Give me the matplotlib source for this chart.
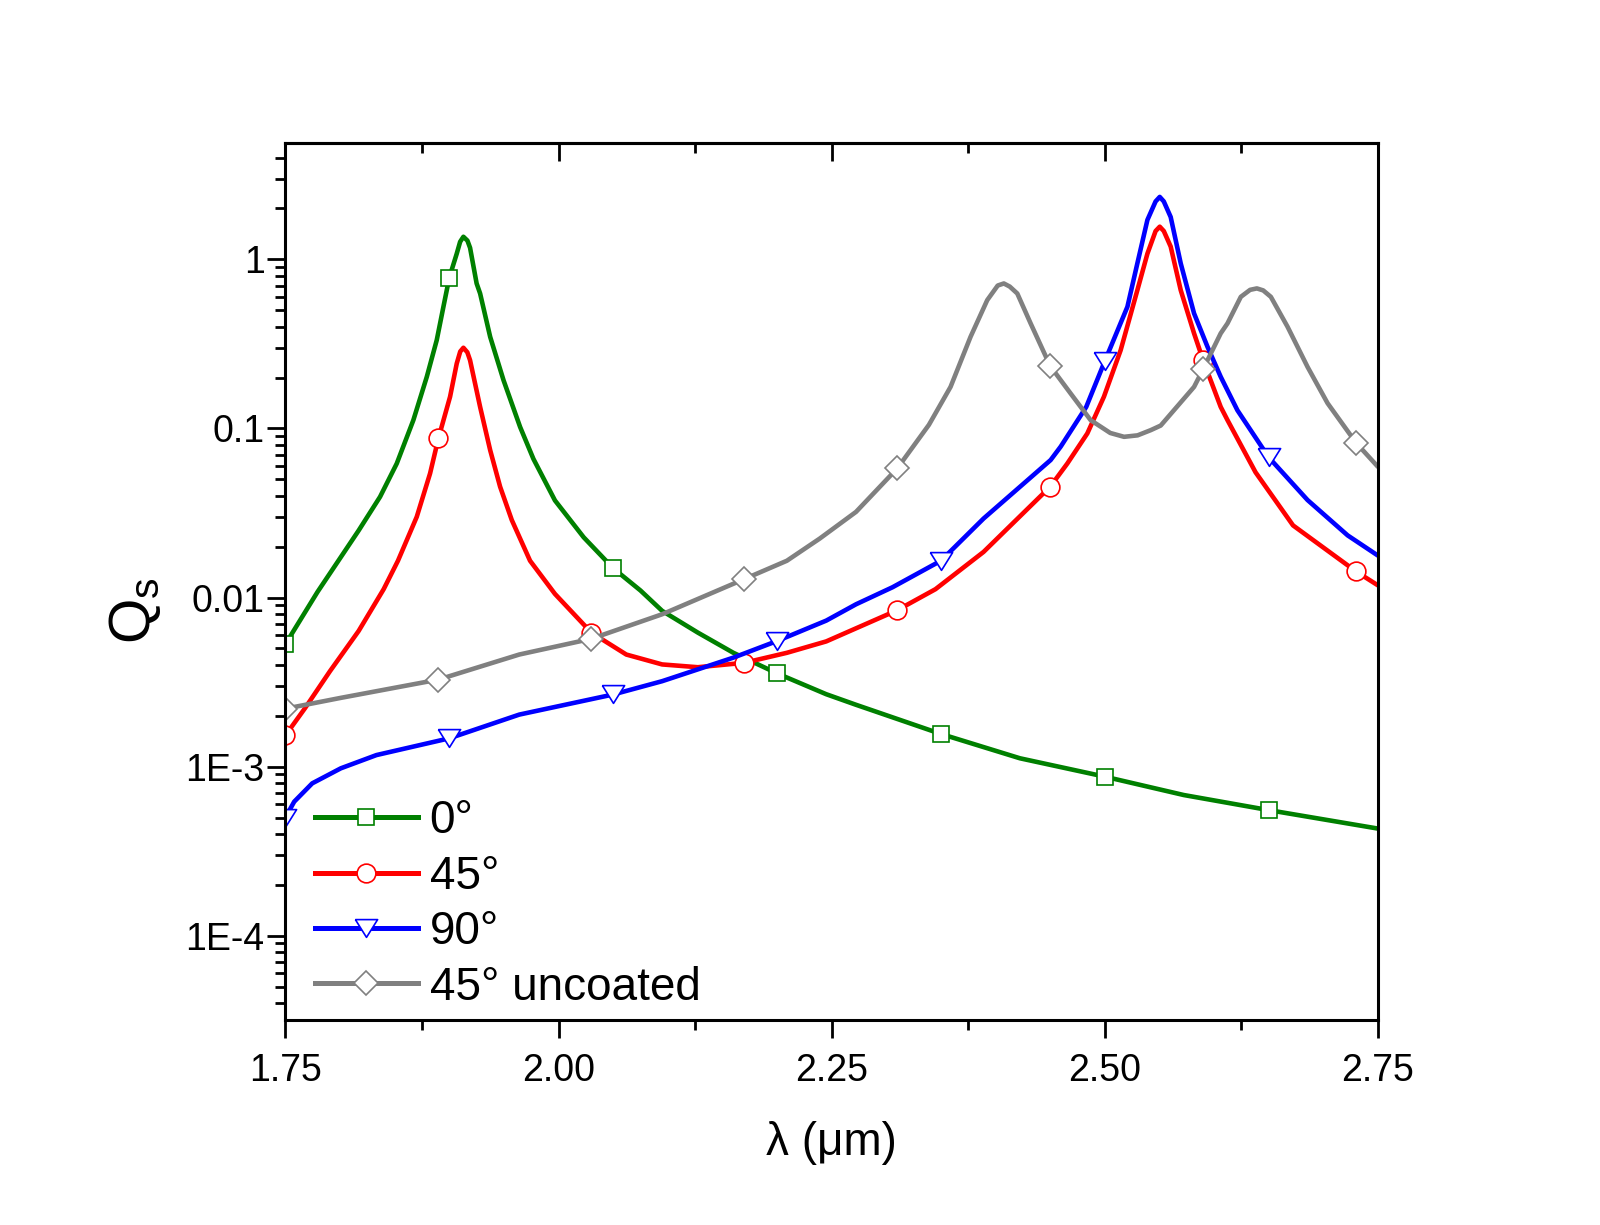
import numpy as np
import matplotlib
matplotlib.use('Agg')
import matplotlib.pyplot as plt
from matplotlib.lines import Line2D
from matplotlib.ticker import LogLocator, NullFormatter, FixedLocator

plt.rcParams['font.family'] = ['Liberation Sans', 'DejaVu Sans']
plt.rcParams['mathtext.default'] = 'regular'

# values
x_0deg = [1.750, 1.7794, 1.817, 1.8366, 1.8519, 1.8671, 1.8794, 1.8885, 1.8946, 1.900,
          1.9068, 1.9099, 1.9129, 1.9166, 1.919, 1.925, 1.9282, 1.9374, 1.9496, 1.9648,
          1.977, 1.9967, 2.023, 2.050, 2.075, 2.0948, 2.1275, 2.160, 2.200, 2.245,
          2.2723, 2.350, 2.4223, 2.500, 2.5723, 2.650, 2.750]
y_0deg = [0.0053, 0.0108, 0.0249, 0.0394, 0.062, 0.112, 0.202, 0.333, 0.524, 0.78,
          1.08, 1.27, 1.36, 1.29, 1.17, 0.72, 0.628, 0.348, 0.193, 0.102,
          0.066, 0.0375, 0.0227, 0.0149, 0.011, 0.00834, 0.0062, 0.00471, 0.00356, 0.00268,
          0.00232, 0.00156, 0.00112, 0.000872, 0.000679, 0.000553, 0.00043]

x_45deg = [1.750, 1.768, 1.7908, 1.817, 1.8399, 1.853, 1.8702, 1.8824, 1.890, 1.9007,
           1.9068, 1.910, 1.9129, 1.9165, 1.919, 1.9282, 1.9374, 1.9465, 1.9572, 1.9739,
           1.9967, 2.030, 2.062, 2.0948, 2.1275, 2.170, 2.209, 2.245, 2.310, 2.345,
           2.389, 2.450, 2.4657, 2.484, 2.4992, 2.5145, 2.5298, 2.539, 2.5465, 2.5503,
           2.554, 2.5603, 2.5695, 2.5817, 2.590, 2.6061, 2.6123, 2.638, 2.6723, 2.730,
           2.750]
y_45deg = [0.00153, 0.00222, 0.00367, 0.00634, 0.0112, 0.0165, 0.030, 0.0542, 0.0873, 0.154,
           0.242, 0.285, 0.30, 0.282, 0.253, 0.134, 0.0744, 0.0452, 0.0287, 0.0165,
           0.0105, 0.0062, 0.0046, 0.00402, 0.00387, 0.00411, 0.00471, 0.0055, 0.00841, 0.0112,
           0.0186, 0.0452, 0.062, 0.0934, 0.154, 0.290, 0.657, 1.08, 1.47, 1.56,
           1.47, 1.19, 0.657, 0.365, 0.253, 0.134, 0.112, 0.055, 0.0267, 0.01426,
           0.0118]

x_90deg = [1.750, 1.758, 1.7745, 1.8007, 1.8333, 1.900, 1.964, 2.050, 2.0948, 2.160,
           2.200, 2.245, 2.2723, 2.3057, 2.350, 2.389, 2.4504, 2.4596, 2.483, 2.500,
           2.5207, 2.5298, 2.539, 2.5465, 2.5503, 2.554, 2.5603, 2.5695, 2.5817, 2.594,
           2.6061, 2.6214, 2.650, 2.6856, 2.7223, 2.750]
y_90deg = [0.0005, 0.00062, 0.000796, 0.000977, 0.00117, 0.00147, 0.00203, 0.00267, 0.0032, 0.00441,
           0.00553, 0.0073, 0.00912, 0.0115, 0.0165, 0.0293, 0.065, 0.078, 0.134, 0.25,
           0.524, 0.946, 1.71, 2.2, 2.34, 2.2, 1.78, 0.946, 0.479, 0.304,
           0.202, 0.128, 0.0675, 0.0377, 0.0233, 0.0177]

x_uncoated = [1.750, 1.8007, 1.890, 1.964, 2.030, 2.0948, 2.170, 2.209, 2.239, 2.2723,
              2.310, 2.339, 2.3588, 2.3771, 2.3924, 2.402, 2.4076, 2.413, 2.4199, 2.4321,
              2.450, 2.4687, 2.487, 2.505, 2.5176, 2.530, 2.5421, 2.5512, 2.5817, 2.590,
              2.6061, 2.6123, 2.6245, 2.633, 2.6392, 2.645, 2.652, 2.6673, 2.6856, 2.7039,
              2.730, 2.750]
y_uncoated = [0.0022, 0.00255, 0.00327, 0.0046, 0.0057, 0.00796, 0.01285, 0.0165, 0.0223, 0.0321,
              0.058, 0.105, 0.176, 0.348, 0.574, 0.70, 0.72, 0.69, 0.628, 0.418,
              0.234, 0.161, 0.112, 0.094, 0.0892, 0.091, 0.0977, 0.104, 0.176, 0.224,
              0.365, 0.418, 0.6, 0.66, 0.673, 0.655, 0.6, 0.399, 0.231, 0.141,
              0.0822, 0.0593]

marks_a = [1.75, 1.90, 2.05, 2.20, 2.35, 2.50, 2.65]
marks_b = [1.75, 1.89, 2.03, 2.17, 2.31, 2.45, 2.59, 2.73]

labels = ['0°', '45°', '90°', '45° uncoated']
colors = ['#008000', '#ff0000', '#0000ff', '#808080']

tri = [(-1, 0.8), (1, 0.8), (0, -0.8), (-1, 0.8)]
markers = ['s', 'o', tri, 'D']
msizes = [12, 13.5, 16, 12.5]

series = [(x_0deg, y_0deg, marks_a), (x_45deg, y_45deg, marks_b),
          (x_90deg, y_90deg, marks_a), (x_uncoated, y_uncoated, marks_b)]

fig = plt.figure(figsize=(16, 12.25), dpi=100)
ax = fig.add_axes([0.1784, 0.1673, 0.6828, 0.7159])

handles = []
for (xs, ys, mk), c, m, ms, lab in zip(series, colors, markers, msizes, labels):
    xs = np.array(xs)
    ys = np.array(ys)
    ax.plot(xs, ys, color=c, lw=3.3, solid_joinstyle='round', solid_capstyle='round')
    sel = np.isin(np.round(xs, 3), np.round(mk, 3))
    ax.plot(xs[sel], ys[sel], ls='none', marker=m, ms=ms, mfc='white', mec=c, mew=1.2)
    handles.append(Line2D([], [], color=c, lw=3.6, marker=m, ms=ms,
                          mfc='white', mec=c, mew=1.2))

ax.set_yscale('log')
ax.set_xlim(1.75, 2.75)
ax.set_ylim(3.17e-5, 4.87)

ax.set_xticks([1.75, 2.00, 2.25, 2.50, 2.75], ['1.75', '2.00', '2.25', '2.50', '2.75'])
ax.xaxis.set_minor_locator(FixedLocator([1.875, 2.125, 2.375, 2.625]))
ax.set_yticks([1e-4, 1e-3, 1e-2, 1e-1, 1], ['1E-4', '1E-3', '0.01', '0.1', '1'])
ax.yaxis.set_minor_locator(LogLocator(base=10, subs=np.arange(2, 10), numticks=30))
ax.yaxis.set_minor_formatter(NullFormatter())

ax.tick_params(axis='both', which='both', direction='out', width=2, top=False, right=False)
ax.tick_params(axis='both', which='major', length=13, labelsize=27)
ax.tick_params(axis='both', which='minor', length=7)
ax.tick_params(axis='x', which='major', pad=11)
ax.tick_params(axis='y', which='major', pad=2)

top = ax.secondary_xaxis('top')
top.set_xticks([1.75, 2.00, 2.25, 2.50, 2.75])
top.xaxis.set_minor_locator(FixedLocator([1.875, 2.125, 2.375, 2.625]))
top.tick_params(axis='x', which='both', direction='in', width=2, labeltop=False)
top.tick_params(axis='x', which='major', length=13)
top.tick_params(axis='x', which='minor', length=7)
top.spines['top'].set_linewidth(2.2)

for s in ax.spines.values():
    s.set_linewidth(2.2)

ax.set_xlabel('λ (μm)', fontsize=33)
ax.xaxis.set_label_coords(0.5, -0.115)
ax.set_ylabel('$Q_s$', fontsize=42)
ax.yaxis.set_label_coords(-0.112, 0.4675)

ax.legend(handles, labels, loc='lower left', bbox_to_anchor=(0.027, 0.012),
          frameon=False, fontsize=33, handlelength=2.25, handletextpad=0.25,
          labelspacing=0.25, borderpad=0, borderaxespad=0)

fig.savefig('out.png', dpi=100)
